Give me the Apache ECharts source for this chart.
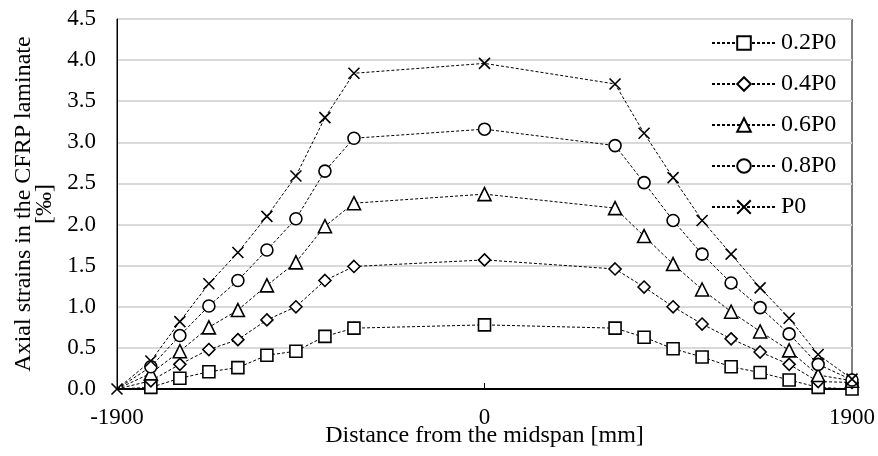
<!DOCTYPE html>
<html>
<head>
<meta charset="utf-8">
<script src="https://cdn.jsdelivr.net/npm/echarts@6/dist/echarts.min.js"></script>
<style>
  html, body { margin: 0; padding: 0; background: #fff; }
  #chart { width: 878px; height: 456px; }
</style>
</head>
<body>
<div id="chart"></div>
<script>
// Measurement stations along the beam [mm]
const distances = [-1900, -1725, -1575, -1425, -1275, -1125, -975, -825, -675, 0,
                   675, 825, 975, 1125, 1275, 1425, 1575, 1725, 1900];

// Axial strains in the CFRP laminate [‰] per load level
const strain02P0 = [0, 0.02, 0.13, 0.21, 0.26, 0.41, 0.46, 0.64, 0.74, 0.78,
                    0.74, 0.63, 0.49, 0.39, 0.27, 0.20, 0.11, 0.02, 0.00];
const strain04P0 = [0, 0.10, 0.30, 0.48, 0.60, 0.84, 1.00, 1.32, 1.49, 1.57,
                    1.46, 1.24, 1.00, 0.79, 0.61, 0.45, 0.30, 0.09, 0.08];
const strain06P0 = [0, 0.19, 0.46, 0.75, 0.96, 1.26, 1.54, 1.98, 2.26, 2.37,
                    2.20, 1.86, 1.52, 1.21, 0.94, 0.70, 0.47, 0.17, 0.10];
const strain08P0 = [0, 0.27, 0.65, 1.01, 1.32, 1.69, 2.07, 2.65, 3.05, 3.16,
                    2.96, 2.51, 2.05, 1.64, 1.29, 0.99, 0.67, 0.30, 0.11];
const strainP0   = [0, 0.34, 0.82, 1.28, 1.66, 2.10, 2.59, 3.30, 3.84, 3.96,
                    3.71, 3.11, 2.57, 2.05, 1.64, 1.23, 0.86, 0.42, 0.12];

const seriesNames = ['0.2P0', '0.4P0', '0.6P0', '0.8P0', 'P0'];
const seriesValues = [strain02P0, strain04P0, strain06P0, strain08P0, strainP0];
const seriesSymbols = ['rect', 'diamond', 'triangle', 'circle', 'path://M0,0L10,10M0,10L10,0'];
const seriesSymbolSizes = [12, 12, 13, 12, 11];

const FONT = '"Times New Roman", "Liberation Serif", serif';

// The shared support point is marked only once, by the last series
function pairs(values, hideFirst) {
  return distances.map((d, i) => {
    const item = { value: [d, values[i]] };
    if (hideFirst && i === 0) item.symbol = 'none';
    return item;
  });
}

const series = seriesNames.map((name, k) => ({
  name: name,
  type: 'line',
  data: pairs(seriesValues[k], k < seriesNames.length - 1),
  symbol: seriesSymbols[k],
  symbolSize: seriesSymbolSizes[k],
  showAllSymbol: true,
  lineStyle: { color: '#000', width: 1, type: [3, 2] },
  itemStyle: { color: '#fff', borderColor: '#000', borderWidth: 1.6 },
  emphasis: { disabled: true },
  animation: false,
  z: 3
}));

const chart = echarts.init(document.getElementById('chart'), null, { renderer: 'canvas' });
chart.setOption({
  backgroundColor: '#fff',
  animation: false,
  grid: {
    left: 117, right: 26, top: 19, bottom: 67,
    outerBoundsMode: 'none',
    containLabel: false,
    show: true, borderColor: '#000', borderWidth: 1, backgroundColor: 'transparent'
  },
  xAxis: {
    type: 'value',
    min: -1900, max: 1900, interval: 1900,
    name: 'Distance from the midspan [mm]',
    nameLocation: 'middle',
    nameGap: 35,
    nameMoveOverlap: false,
    nameTextStyle: { fontFamily: FONT, fontSize: 24, color: '#000' },
    axisLine: { show: true, onZero: false, lineStyle: { color: '#000', width: 2 } },
    axisTick: { show: true, inside: true, length: 6, lineStyle: { color: '#000', width: 1 } },
    axisLabel: {
      fontFamily: FONT, fontSize: 23, color: '#000', margin: 17,
      showMinLabel: true, showMaxLabel: true,
      formatter: v => String(v)
    },
    splitLine: { show: false }
  },
  yAxis: {
    type: 'value',
    min: 0, max: 4.5, interval: 0.5,
    name: 'Axial strains in the CFRP laminate\n[‰]',
    nameLocation: 'middle',
    nameRotate: 90,
    nameGap: 62,
    nameMoveOverlap: false,
    nameTextStyle: { fontFamily: FONT, fontSize: 24, color: '#000', lineHeight: 21, align: 'center' },
    axisLine: { show: true, onZero: false, lineStyle: { color: '#000', width: 1 } },
    axisTick: { show: false },
    axisLabel: {
      fontFamily: FONT, fontSize: 23, color: '#000', margin: 21,
      formatter: v => v.toFixed(1)
    },
    splitLine: { show: true, lineStyle: { color: '#d9d9d9', width: 2 } }
  },
  legend: {
    orient: 'vertical',
    left: 706, top: 26,
    itemWidth: 64, itemHeight: 17,
    itemGap: 17,
    data: seriesNames,
    textStyle: { fontFamily: FONT, fontSize: 24, color: '#000', lineHeight: 24 },
    selectedMode: false
  },
  series: series
});
</script>
</body>
</html>
